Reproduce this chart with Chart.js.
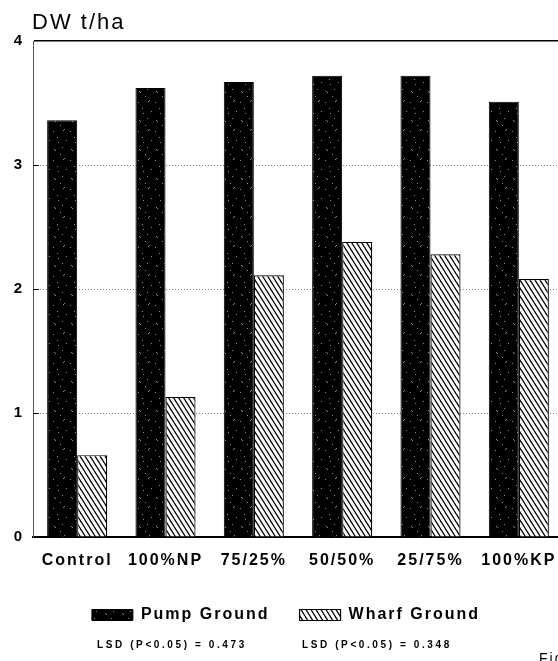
<!DOCTYPE html>
<html>
<head>
<meta charset="utf-8">
<script src="https://cdn.jsdelivr.net/npm/chart.js@4.4.1/dist/chart.umd.min.js"></script>
<style>
  html, body { margin: 0; padding: 0; background: #fff; overflow: hidden; }
</style>
</head>
<body>
<canvas id="dwChart" width="575" height="661"></canvas>
<script>
// dry weight yield per treatment, t/ha
const categories = ['Control', '100%NP', '75/25%', '50/50%', '25/75%', '100%KP'];
const pumpGround = [3.36, 3.62, 3.67, 3.72, 3.72, 3.51];
const wharfGround = [0.66, 1.13, 2.11, 2.38, 2.28, 2.08];
const yTicks = [0, 1, 2, 3, 4];
const lsdNotes = ['LSD (P<0.05) = 0.473', 'LSD (P<0.05) = 0.348'];

const FONT = '"Liberation Sans", Arial, sans-serif';
const canvas = document.getElementById('dwChart');
const mainCtx = canvas.getContext('2d');

// solid black with a few pale flecks
function speckleFill() {
  const c = document.createElement('canvas');
  c.width = 17; c.height = 29;
  const g = c.getContext('2d');
  g.fillStyle = '#000';
  g.fillRect(0, 0, 17, 29);
  g.fillStyle = '#8c8c8c';
  [[3, 4], [4, 5], [11, 2], [13, 13], [12, 14], [6, 21], [9, 9], [2, 15], [15, 24], [7, 26]]
    .forEach(p => g.fillRect(p[0], p[1], 1, 1));
  return mainCtx.createPattern(c, 'repeat');
}

// white with steep back-slash hatching
function hatchFill() {
  const w = 5, h = 8;
  const c = document.createElement('canvas');
  c.width = w; c.height = h;
  const g = c.getContext('2d');
  g.fillStyle = '#fff';
  g.fillRect(0, 0, w, h);
  g.strokeStyle = '#000';
  g.lineWidth = 1.2;
  for (const k of [-1, 0, 1]) {
    g.beginPath();
    g.moveTo(k * w - w, -h);
    g.lineTo(k * w + 2 * w, 2 * h);
    g.stroke();
  }
  return mainCtx.createPattern(c, 'repeat');
}

const textBits = {
  id: 'textBits',
  beforeUpdate(chart) { chart.ctx.letterSpacing = '2px'; },
  beforeDraw(chart) { chart.ctx.letterSpacing = '2px'; },
  afterDraw(chart) {
    const ctx = chart.ctx;
    const y = chart.scales.y;
    const left = chart.chartArea.left;
    ctx.save();
    // short inner tick marks on the value axis
    ctx.strokeStyle = '#000';
    ctx.lineWidth = 1;
    yTicks.filter(v => v > 0 && v < 4).forEach(v => {
      const py = Math.round(y.getPixelForValue(v)) + 0.5;
      ctx.beginPath();
      ctx.moveTo(left, py);
      ctx.lineTo(left + 6, py);
      ctx.stroke();
    });
    // unit label
    ctx.fillStyle = '#000';
    ctx.textAlign = 'left';
    ctx.textBaseline = 'alphabetic';
    ctx.letterSpacing = '2px';
    ctx.font = '22px ' + FONT;
    ctx.fillText('DW t/ha', 32, 29);
    // LSD notes
    ctx.letterSpacing = '2.6px';
    ctx.font = 'bold 10px ' + FONT;
    ctx.textBaseline = 'middle';
    ctx.fillText(lsdNotes[0], 97, 645);
    ctx.fillText(lsdNotes[1], 302, 645);
    ctx.letterSpacing = '2px';
    ctx.font = '14px ' + FONT;
    ctx.textBaseline = 'top';
    ctx.fillText('Fig.', 539, 652);
    ctx.restore();
  }
};

new Chart(canvas, {
  type: 'bar',
  data: {
    labels: categories,
    datasets: [
      { label: 'Pump Ground', data: pumpGround, backgroundColor: speckleFill(), borderColor: '#000', borderWidth: 1 },
      { label: 'Wharf Ground', data: wharfGround, backgroundColor: hatchFill(), borderColor: '#000', borderWidth: 1.2 }
    ]
  },
  options: {
    responsive: false,
    animation: false,
    layout: { padding: { top: 41, right: 12, bottom: 28, left: 9 } },
    datasets: { bar: { categoryPercentage: 0.68, barPercentage: 1 } },
    plugins: {
      tooltip: { enabled: false },
      legend: {
        position: 'bottom',
        labels: { boxWidth: 41, boxHeight: 11, padding: 30, color: '#000', font: { family: FONT, size: 16, weight: 'bold' } }
      }
    },
    scales: {
      x: {
        grid: { display: false, drawTicks: false },
        border: { color: '#000', width: 2 },
        ticks: { color: '#000', padding: 14, maxRotation: 0, autoSkip: false, font: { family: FONT, size: 16, weight: 'bold' } },
        afterFit: s => { s.height = 40; }
      },
      y: {
        min: 0,
        max: 4,
        afterBuildTicks: s => { s.ticks = yTicks.map(v => ({ value: v })); },
        ticks: { color: '#000', padding: 9, font: { family: FONT, size: 15, weight: 'bold' } },
        grid: {
          drawTicks: false,
          color: c => (c.tick && c.tick.value === 4) ? '#000' : '#808080',
          lineWidth: c => (c.tick && c.tick.value === 4) ? 1.5 : 1
        },
        border: {
          color: '#555',
          width: 1,
          dash: c => (c.tick && c.tick.value > 0 && c.tick.value < 4) ? [1, 2] : []
        },
        afterFit: s => { s.width = 24; }
      }
    }
  },
  plugins: [textBits]
});
</script>
</body>
</html>
